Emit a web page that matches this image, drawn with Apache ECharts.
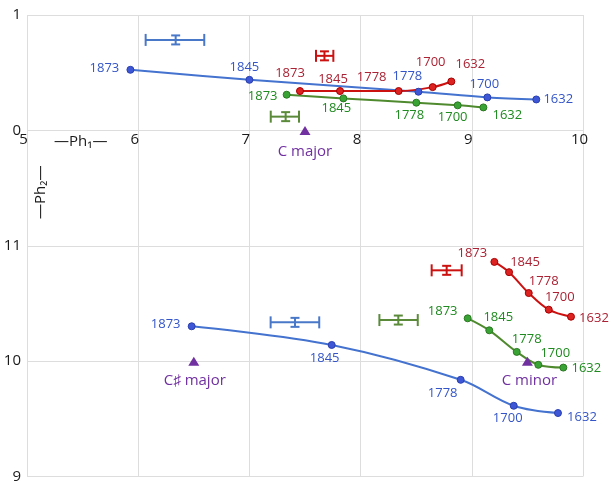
<!DOCTYPE html>
<html>
<head>
<meta charset="utf-8">
<script src="https://cdn.jsdelivr.net/npm/echarts@6/dist/echarts.min.js"></script>
<style>
html,body{margin:0;padding:0;background:#fff;}
#chart{width:611px;height:484px;}
</style>
</head>
<body>
<div id="chart"></div>
<script>
// ---- data ----
const years = ['1873', '1845', '1778', '1700', '1632'];
const xTicks = [5, 6, 7, 8, 9, 10];
const yTickLabels = ['9', '10', '11', '0', '1'];

// upper panel (Ph2 0..1)
const topBlueX = [5.93, 7.00, 8.52, 9.14, 9.58];
const topBlueY = [0.525, 0.438, 0.335, 0.286, 0.268];
const topRedX = [7.455, 7.815, 8.342, 8.648, 8.816];
const topRedY = [0.341, 0.341, 0.341, 0.375, 0.424];
const topGreenX = [7.335, 7.845, 8.501, 8.873, 9.104];
const topGreenY = [0.309, 0.277, 0.240, 0.217, 0.199];

// lower panel (Ph2 9..11)
const botBlueX = [6.481, 7.740, 8.900, 9.377, 9.775];
const botBlueY = [10.302, 10.140, 9.838, 9.613, 9.550];
const botRedX = [9.203, 9.335, 9.512, 9.692, 9.892];
const botRedY = [10.860, 10.771, 10.590, 10.446, 10.385];
const botGreenX = [8.963, 9.157, 9.404, 9.598, 9.823];
const botGreenY = [10.371, 10.267, 10.080, 9.968, 9.944];

// key reference points
const keyNames = ['C major', 'C\u266F major', 'C minor'];
const keyX = [7.5, 6.5, 9.5];
const keyY = [0, 10, 10];

// error bars: [centerX, centerY, xLow, xHigh, yLow, yHigh]
const errBlueTop = [6.337, 0.784, 6.067, 6.594, 0.745, 0.823];
const errRedTop = [7.675, 0.646, 7.599, 7.755, 0.607, 0.685];
const errGreenTop = [7.326, 0.119, 7.192, 7.446, 0.080, 0.158];
const errBlueBot = [7.410, 10.336, 7.191, 7.628, 10.297, 10.375];
const errGreenBot = [8.339, 10.356, 8.169, 8.514, 10.317, 10.395];
const errRedBot = [8.774, 10.787, 8.639, 8.909, 10.748, 10.826];

// ---- styles ----
const BLUE = {line: '#4472cf', pt: '#3d57d6', ptBorder: '#2a3fb0', text: '#3355c8', err: '#4a78c8'};
const RED = {line: '#cc1111', pt: '#dd2222', ptBorder: '#a80000', text: '#aa2233', err: '#cc1111'};
const GREEN = {line: '#4f8a2f', pt: '#3aa335', ptBorder: '#2a7a20', text: '#1f8a1f', err: '#5a8a3a'};
const PURPLE = '#7030a0';

// label offsets (pixels, label centre relative to point)
const offTopBlue = [[-26, -2], [-5, -13], [-11, -15], [-3, -13], [22, 0]];
const offTopRed = [[-10, -18], [-7, -12], [-27, -14], [-2, -25], [19, -17]];
const offTopGreen = [[-24, 2], [-7, 10], [-7, 13], [-5, 12], [24, 8]];
const offBotBlue = [[-26, -2], [-7, 13], [-18, 13], [-6, 13], [24, 4]];
const offBotRed = [[-22, -9], [16, -10], [15, -12], [11, -12], [23, 2]];
const offBotGreen = [[-25, -7], [9, -13], [10, -13], [17, -12], [23, 1]];
const offKeys = [[0, 21], [1, 20], [2, 20]];

// broken axis: lower panel values are shifted down by 12 so 0..1 sits on top
function toAxis(v) { return v >= 5 ? v - 12 : v; }

const FONT = '"Open Sans", "Noto Sans", sans-serif';

function lineSeries(xs, ys, offs, col) {
  return {
    type: 'line',
    smooth: 0.35,
    symbol: 'circle',
    symbolSize: 7,
    z: 3,
    lineStyle: {color: col.line, width: 2},
    itemStyle: {color: col.pt, borderColor: col.ptBorder, borderWidth: 1},
    data: xs.map((x, i) => ({
      value: [x, toAxis(ys[i])],
      name: years[i],
      label: {
        show: true,
        position: 'inside',
        offset: offs[i],
        formatter: years[i],
        color: col.text,
        fontSize: 13,
        fontFamily: FONT
      }
    })),
    emphasis: {disabled: true},
    animation: false
  };
}

function errSeries(errs, color) {
  return {
    type: 'custom',
    z: 4,
    animation: false,
    data: errs.map(e => [e[0], toAxis(e[1]), e[2], e[3], toAxis(e[4]), toAxis(e[5])]),
    renderItem: function (params, api) {
      const c = api.coord([api.value(0), api.value(1)]);
      const l = api.coord([api.value(2), api.value(1)]);
      const r = api.coord([api.value(3), api.value(1)]);
      const b = api.coord([api.value(0), api.value(4)]);
      const t = api.coord([api.value(0), api.value(5)]);
      const cap = 6, icap = 4.5;
      const st = {stroke: color, lineWidth: 2, fill: null};
      const ln = (x1, y1, x2, y2) => ({type: 'line', shape: {x1, y1, x2, y2}, style: st});
      return {
        type: 'group',
        children: [
          ln(l[0], c[1], r[0], c[1]),
          ln(l[0], c[1] - cap, l[0], c[1] + cap),
          ln(r[0], c[1] - cap, r[0], c[1] + cap),
          ln(c[0], t[1], c[0], b[1]),
          ln(c[0] - icap, t[1], c[0] + icap, t[1]),
          ln(c[0] - icap, b[1], c[0] + icap, b[1])
        ]
      };
    }
  };
}

const chart = echarts.init(document.getElementById('chart'), null, {renderer: 'canvas'});

const GRID_TOP = 15, GRID_BOTTOM = 6, CH = 484;
const plotH = CH - GRID_TOP - GRID_BOTTOM;
// distance from bottom edge to the "0" line (axis value 0 within -3..1)
const zeroLift = plotH * 3 / 4;

const option = {
  backgroundColor: '#ffffff',
  animation: false,
  grid: {left: 27, right: 28, top: GRID_TOP, bottom: GRID_BOTTOM, containLabel: false},
  xAxis: {
    type: 'value',
    position: 'bottom',
    offset: -zeroLift,
    min: xTicks[0],
    max: xTicks[xTicks.length - 1],
    interval: 1,
    axisLine: {show: false, onZero: false},
    axisTick: {show: false},
    axisLabel: {
      show: true,
      color: '#1a1a1a',
      fontSize: 15,
      fontFamily: FONT,
      margin: 3,
      padding: [0, 7, 0, 0],
      formatter: v => String(v)
    },
    splitLine: {show: true, lineStyle: {color: '#dddddd', width: 1}}
  },
  yAxis: {
    type: 'value',
    min: -3,
    max: 1,
    interval: 1,
    axisLine: {show: false},
    axisTick: {show: false},
    axisLabel: {
      color: '#1a1a1a',
      fontSize: 15,
      fontFamily: FONT,
      margin: 6,
      formatter: v => yTickLabels[v + 3]
    },
    splitLine: {show: true, lineStyle: {color: '#dddddd', width: 1}}
  },
  graphic: [
    {
      type: 'text', left: 54, top: 134, silent: true,
      style: {text: '\u2014Ph\u2081\u2014', fontSize: 15, fontFamily: FONT, fill: '#1a1a1a'}
    },
    {
      type: 'text', x: 33, y: 219, rotation: Math.PI / 2, silent: true,
      style: {text: '\u2014Ph\u2082\u2014', fontSize: 15, fontFamily: FONT, fill: '#1a1a1a'}
    }
  ],
  series: [
    lineSeries(topBlueX, topBlueY, offTopBlue, BLUE),
    lineSeries(topRedX, topRedY, offTopRed, RED),
    lineSeries(topGreenX, topGreenY, offTopGreen, GREEN),
    lineSeries(botBlueX, botBlueY, offBotBlue, BLUE),
    lineSeries(botRedX, botRedY, offBotRed, RED),
    lineSeries(botGreenX, botGreenY, offBotGreen, GREEN),
    errSeries([errBlueTop, errBlueBot], BLUE.err),
    errSeries([errRedTop, errRedBot], RED.err),
    errSeries([errGreenTop, errGreenBot], GREEN.err),
    {
      type: 'scatter',
      symbol: 'triangle',
      symbolSize: [11, 9],
      z: 5,
      itemStyle: {color: PURPLE, opacity: 1},
      emphasis: {disabled: true},
      data: keyX.map((x, i) => ({
        value: [x, toAxis(keyY[i])],
        label: {
          show: true,
          position: 'inside',
          offset: offKeys[i],
          formatter: keyNames[i],
          color: PURPLE,
          fontSize: 15,
          fontFamily: FONT
        }
      }))
    }
  ]
};
chart.setOption(option);
</script>
</body>
</html>
